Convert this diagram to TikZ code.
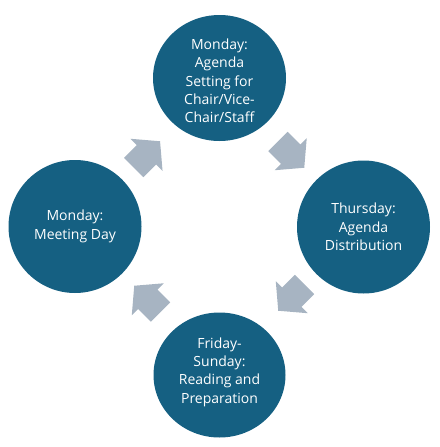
\documentclass[tikz,border=0pt]{standalone}
\usepackage{fontspec}
\setmainfont{Open Sans}
\usetikzlibrary{shapes.geometric}
\definecolor{circblue}{HTML}{156082}
\definecolor{arrowgray}{HTML}{A7B4C2}
\tikzset{
  phasetext/.style={inner sep=0pt, text=white, align=center,
    font=\fontsize{14}{18.3}\selectfont},
  phase/.style={ellipse, fill=circblue, phasetext},
  pics/barrow/.style={code={
    \fill[arrowgray] (-13.5,-13.7) -- (4.5,-13.7) -- (4.5,-22.7) -- (23.7,0)
      -- (4.5,22.7) -- (4.5,13.7) -- (-13.5,13.7) -- cycle;}}
}
\begin{document}
\begin{tikzpicture}[x=1pt,y=-1pt]
\useasboundingbox (0,0) rectangle (439,447);
\node[phase, minimum width=133pt, minimum height=126pt] (top) at (219.5,78) {};
\node[phasetext] (toptext) at (219.5,81)
  {Monday:\\Agenda\\Setting for\\Chair/Vice-\\Chair/Staff};
\node[phase, minimum width=133pt, minimum height=133pt] (right) at (363.5,227)
  {Thursday:\\Agenda\\Distribution};
\node[phase, minimum width=132pt, minimum height=125pt] (bottom) at (219.5,375) {};
\node[phasetext] (bottomtext) at (219.5,372)
  {Friday-\\Sunday:\\Reading and\\Preparation};
\node[phase, minimum width=133pt, minimum height=133pt] (left) at (75,226.5)
  {Monday:\\Meeting Day};
\pic[rotate=45] at (143.3,158) {barrow};
\pic[rotate=-45] at (287.5,151) {barrow};
\pic[rotate=-135] at (295,294) {barrow};
\pic[rotate=135] at (151,302.5) {barrow};
\end{tikzpicture}
\end{document}
